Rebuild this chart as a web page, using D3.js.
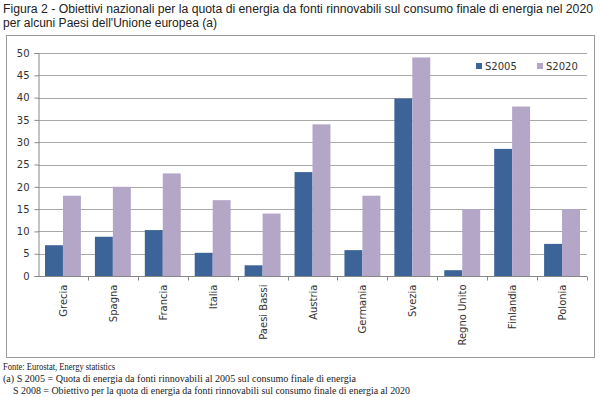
<!DOCTYPE html>
<html>
<head>
<meta charset="utf-8">
<script src="https://cdn.jsdelivr.net/npm/d3@7"></script>
<style>
  body { margin: 0; background: #fff; }
  .title { font-family: "Liberation Sans Narrow", "Liberation Sans", Arial, sans-serif; font-size: 12px; fill: #222; }
  .note { font-family: "Liberation Serif", "Times New Roman", serif; font-size: 10px; fill: #222; }
  .axis text { font-family: "DejaVu Sans", Verdana, sans-serif; font-size: 10px; fill: #333; }
  .legend text { font-family: "DejaVu Sans", Verdana, sans-serif; font-size: 10px; fill: #333; }
</style>
</head>
<body>
<svg id="chart" width="600" height="397"></svg>
<script>
// data
var countries = ["Grecia", "Spagna", "Francia", "Italia", "Paesi Bassi", "Austria",
  "Germania", "Svezia", "Regno Unito", "Finlandia", "Polonia"]
var s2005 = [6.9, 8.8, 10.3, 5.2, 2.4, 23.3, 5.8, 39.8, 1.3, 28.5, 7.2]
var s2020 = [18, 20, 23, 17, 14, 34, 18, 49, 15, 38, 15]
var seriesNames = ["S2005", "S2020"]
var yTicks = [0, 5, 10, 15, 20, 25, 30, 35, 40, 45, 50]

var colors = { S2005: "#3d6499", S2020: "#b3a6c7" }

var svg = d3.select("#chart")

// title lines, fitted to the width of the original
var titles = [
  ["Figura 2 - Obiettivi nazionali per la quota di energia da fonti rinnovabili sul consumo finale di energia nel 2020", 13, 590],
  ["per alcuni Paesi dell'Unione europea (a)", 27, 214]
]
titles.forEach(function (t) {
  svg.append("text").attr("class", "title").attr("x", 3).attr("y", t[1])
    .attr("textLength", t[2]).attr("lengthAdjust", "spacingAndGlyphs")
    .text(t[0])
})

// chart frame
svg.append("rect").attr("x", 6.5).attr("y", 35.5).attr("width", 588).attr("height", 322)
  .attr("fill", "none").attr("stroke", "#9a9a9a").attr("stroke-width", 1)

var margin = { left: 38, top: 53, right: 587, bottom: 276 }

var x = d3.scaleBand().domain(countries).range([margin.left, margin.right])
var x1 = d3.scaleBand().domain(seriesNames).range([0, x.bandwidth()]).paddingInner(0).paddingOuter(0.39)
var y = d3.scaleLinear().domain([0, 50]).range([margin.bottom, margin.top])

// gridlines
svg.append("g").selectAll("line").data(yTicks.slice(1)).enter().append("line")
  .attr("x1", margin.left).attr("x2", margin.right)
  .attr("y1", function (d) { return Math.round(y(d)) + 0.5 })
  .attr("y2", function (d) { return Math.round(y(d)) + 0.5 })
  .attr("stroke", "#a9a9a9").attr("stroke-width", 1)

// bars
var groups = svg.append("g").selectAll("g").data(countries).enter().append("g")
  .attr("transform", function (d) { return "translate(" + x(d) + ",0)" })

groups.selectAll("rect")
  .data(function (d, i) { return [{ k: "S2005", v: s2005[i] }, { k: "S2020", v: s2020[i] }] })
  .enter().append("rect")
  .attr("x", function (d) { return x1(d.k) })
  .attr("width", x1.bandwidth())
  .attr("y", function (d) { return y(d.v) })
  .attr("height", function (d) { return y(0) - y(d.v) })
  .attr("fill", function (d) { return colors[d.k] })

// y axis
var yAxis = svg.append("g").attr("class", "axis")
  .attr("transform", "translate(" + (margin.left + 0.5) + ",0)")
  .call(d3.axisLeft(y).tickValues(yTicks).tickSize(4).tickPadding(5))
yAxis.select(".domain").attr("stroke", "#888")
yAxis.selectAll(".tick line").attr("stroke", "#888")

// x axis
var xAxis = svg.append("g").attr("class", "axis")
  .attr("transform", "translate(0," + (margin.bottom + 0.5) + ")")
xAxis.append("line").attr("x1", margin.left).attr("x2", margin.right).attr("stroke", "#888")
xAxis.selectAll(".sep").data(countries).enter().append("line")
  .attr("x1", function (d) { return Math.round(x(d) + x.bandwidth()) + 0.5 })
  .attr("x2", function (d) { return Math.round(x(d) + x.bandwidth()) + 0.5 })
  .attr("y1", 0).attr("y2", 4).attr("stroke", "#888")
xAxis.selectAll(".lbl").data(countries).enter().append("text")
  .attr("transform", function (d) { return "translate(" + (x(d) + x.bandwidth() / 2 + 4) + ",8) rotate(-90)" })
  .attr("text-anchor", "end")
  .text(function (d) { return d })

// legend
var legend = svg.append("g").attr("class", "legend")
seriesNames.forEach(function (s, i) {
  var lx = 476 + i * 61
  legend.append("rect").attr("x", lx).attr("y", 63).attr("width", 6).attr("height", 6).attr("fill", colors[s])
  legend.append("text").attr("x", lx + 9).attr("y", 70).text(s)
})

// notes
var notes = [
  ["Fonte: Eurostat, Energy statistics", 3, 370, 112],
  ["(a) S 2005 = Quota di energia da fonti rinnovabili al 2005 sul consumo finale di energia", 3, 382, 353],
  ["S 2008 = Obiettivo per la quota di energia da fonti rinnovabili sul consumo finale di energia al 2020", 13, 393.5, 397]
]
notes.forEach(function (n) {
  svg.append("text").attr("class", "note").attr("x", n[1]).attr("y", n[2])
    .attr("textLength", n[3]).attr("lengthAdjust", "spacingAndGlyphs")
    .text(n[0])
})
</script>
</body>
</html>
